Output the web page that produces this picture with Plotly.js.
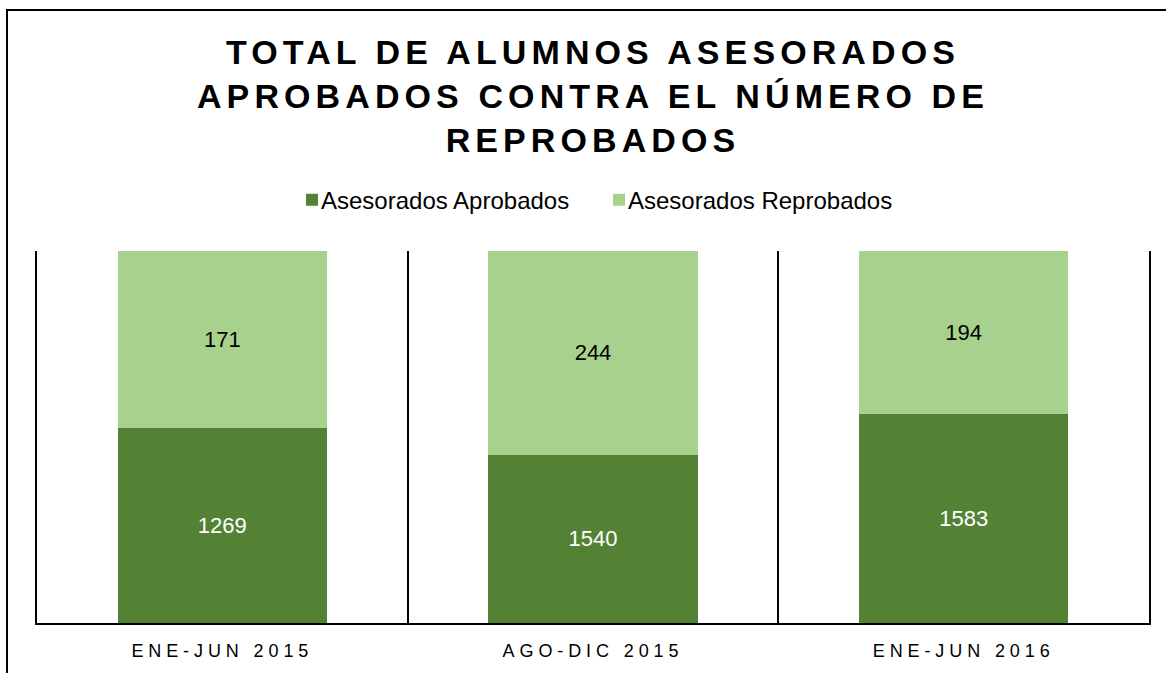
<!DOCTYPE html>
<html>
<head>
<meta charset="utf-8">
<script src="https://cdn.plot.ly/plotly-3.0.1.min.js"></script>
<style>
  html, body { margin: 0; padding: 0; background: #fff; }
  #wrap { position: relative; width: 1166px; height: 673px; overflow: hidden; }
  #chart { width: 1166px; height: 673px; }
  #frame { position: absolute; left: 6px; top: 9px; right: -4px; bottom: -4px;
           border-top: 2px solid #000; border-left: 2px solid #000; pointer-events: none; }
  .gtitle { letter-spacing: 5.1px; }
  .xtick text { letter-spacing: 4.9px; }
  .legend .legendtext { transform: translateX(-11px); }
</style>
</head>
<body>
<div id="wrap">
  <div id="chart"></div>
  <div id="frame"></div>
</div>
<script>
// Categories (periods)
const periodos = ['ENE-JUN 2015', 'AGO-DIC 2015', 'ENE-JUN 2016'];
// Values printed as data labels
const aprobados = [1269, 1540, 1583];
const reprobados = [171, 244, 194];
// Share of each bar's height as drawn in the picture (percent of the full column)
const aprobadosAltura = [52.4, 45.2, 56.3];
const reprobadosAltura = [47.6, 54.8, 43.7];
// Series names
const serieAprobados = 'Asesorados Aprobados';
const serieReprobados = 'Asesorados Reprobados';

const FONT = 'Liberation Sans, Arial, sans-serif';

const traces = [
  {
    type: 'bar', name: serieAprobados, x: periodos, y: aprobadosAltura,
    text: aprobados.map(String), texttemplate: '%{text}',
    textposition: 'inside', insidetextanchor: 'middle', textangle: 0,
    textfont: { family: FONT, size: 22, color: '#ffffff' },
    marker: { color: '#548235' }, hoverinfo: 'none'
  },
  {
    type: 'bar', name: serieReprobados, x: periodos, y: reprobadosAltura,
    text: reprobados.map(String), texttemplate: '%{text}',
    textposition: 'inside', insidetextanchor: 'middle', textangle: 0,
    textfont: { family: FONT, size: 22, color: '#000000' },
    marker: { color: '#a9d18e' }, hoverinfo: 'none'
  }
];

const layout = {
  width: 1166, height: 673,
  margin: { l: 37, r: 17, t: 251, b: 50, pad: 0 },
  paper_bgcolor: '#ffffff', plot_bgcolor: '#ffffff',
  barmode: 'stack', bargap: 0.436,
  showlegend: true,
  font: { family: FONT, color: '#000000' },
  title: {
    text: 'TOTAL DE ALUMNOS ASESORADOS<br>APROBADOS CONTRA EL NÚMERO DE<br>REPROBADOS',
    font: { family: FONT, size: 34, color: '#000000', weight: 'bold' },
    x: 0.5, xref: 'paper', xanchor: 'center',
    y: 0.905, yref: 'container', yanchor: 'top'
  },
  legend: {
    orientation: 'h', x: 0.5054, xanchor: 'center', y: 1.137, yanchor: 'middle',
    entrywidth: 262, entrywidthmode: 'pixels',
    font: { family: FONT, size: 24, color: '#000000' },
    traceorder: 'normal', itemclick: false, itemdoubleclick: false
  },
  xaxis: {
    type: 'category', tickson: 'boundaries', ticks: '',
    showgrid: true, gridcolor: '#000000', gridwidth: 2,
    showline: true, linecolor: '#000000', linewidth: 2,
    tickfont: { family: FONT, size: 18, color: '#000000' },
    ticklabelstandoff: 10,
    fixedrange: true
  },
  yaxis: {
    range: [0, 100], showgrid: false, zeroline: false,
    showline: true, mirror: true, linecolor: '#000000', linewidth: 2,
    showticklabels: false, ticks: '', fixedrange: true
  }
};

Plotly.newPlot('chart', traces, layout, { staticPlot: true, displayModeBar: false });
</script>
</body>
</html>
